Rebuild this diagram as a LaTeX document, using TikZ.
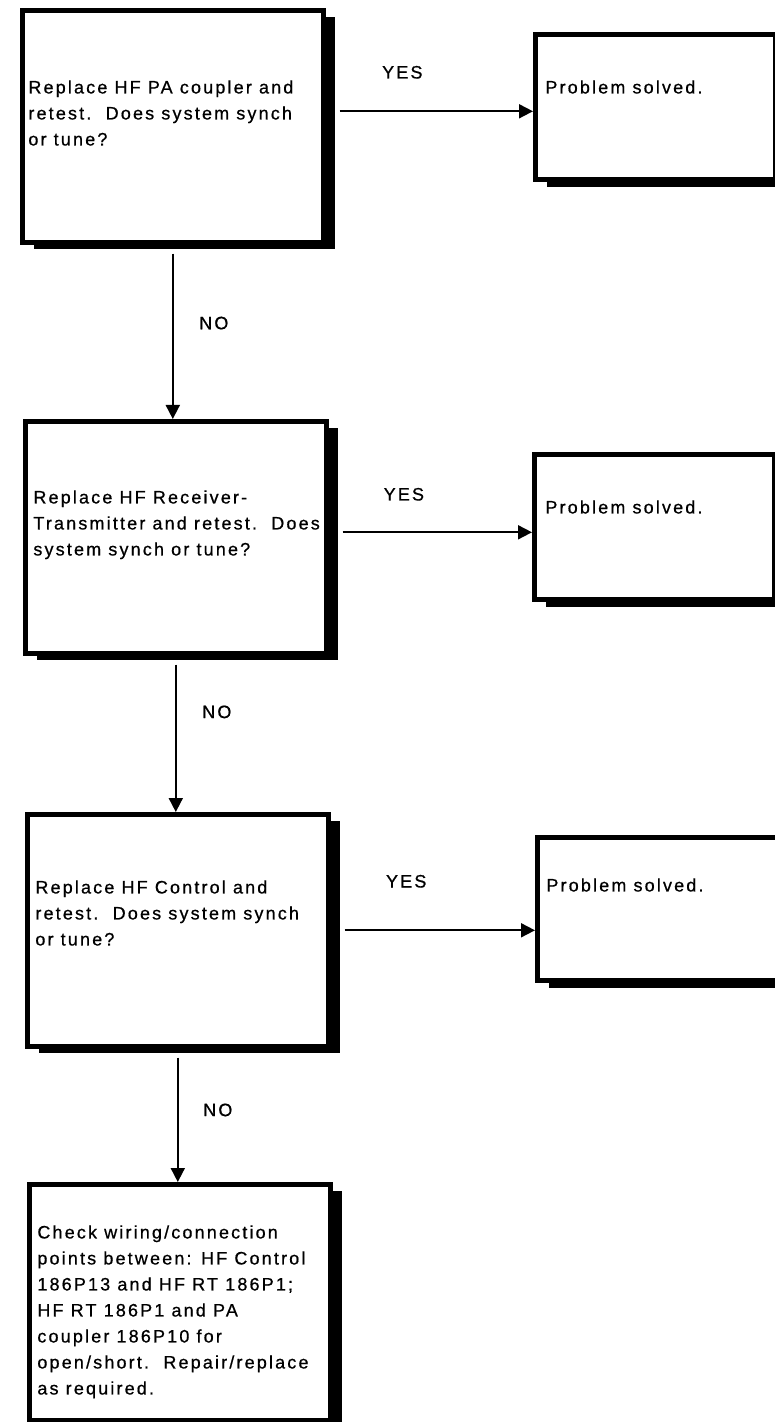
\documentclass[tikz,border=0pt]{standalone}
\usepackage{fontspec}
\setmainfont{Liberation Sans}[LetterSpace=12, FakeBold=0.7]
\usetikzlibrary{arrows.meta,positioning,shadows}

\begin{document}
\begin{tikzpicture}[
    x=0.5pt, y=-0.5pt,
    font=\fontsize{9}{13}\selectfont,
    box/.style={draw=black, line width=2.3pt, fill=white, rectangle, inner sep=0pt, anchor=north west,
        drop shadow={shadow xshift=6pt, shadow yshift=-3.5pt, opacity=1, fill=black}},
    qbox/.style={box, minimum width=150.5pt, minimum height=116pt},
    sbox/.style={box, minimum width=120pt, minimum height=72.7pt},
    txt/.style={anchor=north west, inner sep=0pt, align=left},
    flow/.style={black, line width=0.9pt, -{Triangle[length=7pt, width=7pt]}},
    answer/.style={inner sep=0pt}
]
\useasboundingbox (0,0) rectangle (775,1422);

% -------- question boxes (left column) --------
\node[qbox] (q1) at (20,8) {};
\node[qbox] (q2) at (23,419) {};
\node[qbox] (q3) at (25,812) {};
\node[qbox, minimum height=118pt] (q4) at (27,1182) {};

% -------- result boxes (right column, cut by the page edge) --------
\node[sbox] (s1) at (533,32) {};
\node[sbox] (s2) at (532,452) {};
\node[sbox, minimum height=71.7pt] (s3) at (535,835) {};

% -------- texts --------
\node[txt] (t1) at ([xshift=4pt, yshift=-36pt]q1.north west)
    {Replace HF PA coupler and\\retest.\ \ Does system synch\\or tune?};
\node[txt] (t2) at ([xshift=5pt, yshift=-35.5pt]q2.north west)
    {Replace HF Receiver-\\Transmitter and retest.\ \ Does\\system synch or tune?};
\node[txt] (t3) at ([xshift=5pt, yshift=-34pt]q3.north west)
    {Replace HF Control and\\retest.\ \ Does system synch\\or tune?};
\node[txt] (t4) at ([xshift=5pt, yshift=-21.5pt]q4.north west)
    {Check wiring/connection\\points between: HF Control\\186P13 and HF RT 186P1;\\HF RT 186P1 and PA\\coupler 186P10 for\\open/short.\ \ Repair/replace\\as required.};
\node[txt] (r1) at ([xshift=6pt, yshift=-24pt]s1.north west) {Problem solved.};
\node[txt] (r2) at ([xshift=6.5pt, yshift=-24pt]s2.north west) {Problem solved.};
\node[txt] (r3) at ([xshift=5.5pt, yshift=-21.5pt]s3.north west) {Problem solved.};

% -------- YES branches --------
\draw[flow, shorten <=7pt] ([yshift=7.5pt]q1.east) -- ([yshift=7.5pt]q1.east -| s1.west)
    node[answer, pos=.37, yshift=19.5pt] {YES};
\draw[flow, shorten <=7pt] ([yshift=2.5pt]q2.east) -- ([yshift=2.5pt]q2.east -| s2.west)
    node[answer, pos=.37, yshift=19pt] {YES};
\draw[flow, shorten <=7pt] (q3.east) -- (q3.east -| s3.west)
    node[answer, pos=.37, yshift=24.5pt] {YES};

% -------- NO branches --------
\draw[flow, shorten <=4.5pt] (q1.south) -- (q1.south |- q2.north)
    node[answer, pos=.45, xshift=20.5pt] {NO};
\draw[flow, shorten <=4.5pt] (q2.south) -- (q2.south |- q3.north)
    node[answer, pos=.36, xshift=20.5pt] {NO};
\draw[flow, shorten <=4.5pt] (q3.south) -- (q3.south |- q4.north)
    node[answer, pos=.46, xshift=20pt] {NO};

\end{tikzpicture}
\end{document}
